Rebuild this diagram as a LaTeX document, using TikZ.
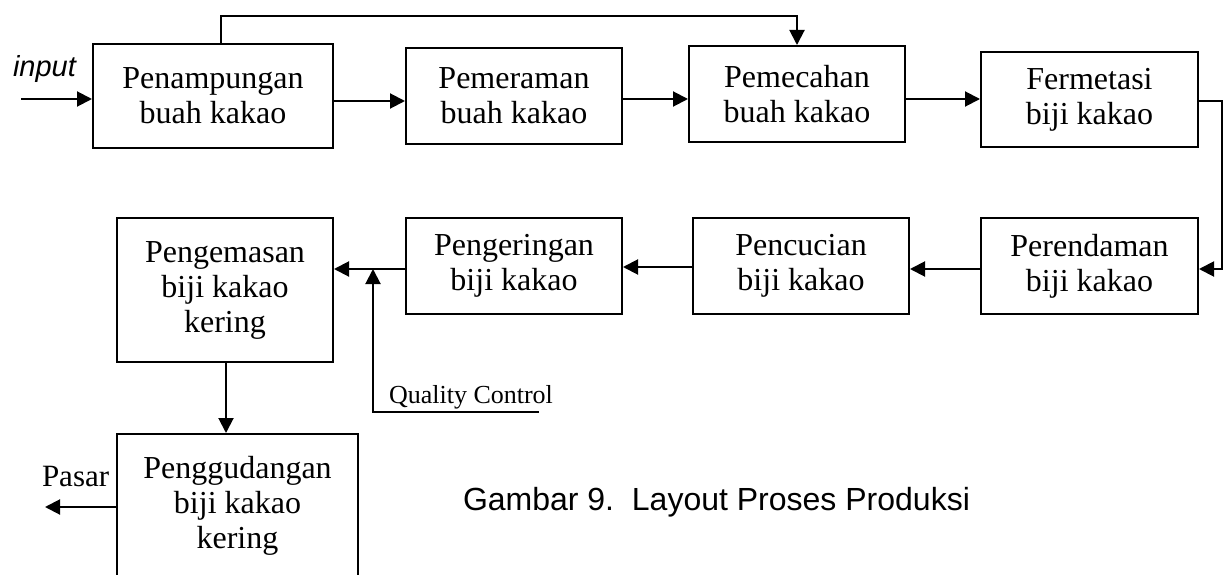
\documentclass[tikz,border=0pt]{standalone}
\usepackage{fontspec}
\setmainfont{Liberation Serif}
\newfontfamily\arialfont{Liberation Sans}
\usetikzlibrary{arrows.meta}

\begin{document}
\begin{tikzpicture}[x=1pt,y=-1pt,
  line width=2pt,
  procbox/.style={draw, inner sep=0pt, align=center,
    font=\fontsize{32}{35}\selectfont},
  arr/.style={-{Triangle[length=15pt,width=15pt]}},
  plain/.style={font=\fontsize{31}{35}\selectfont, inner sep=0pt}
]
\useasboundingbox (0,0) rectangle (1225,575);
\clip (0,0) rectangle (1225,575);

% first row of process steps
\node[procbox, minimum width=240pt, minimum height=104pt] (b1) at (213,96)
  {Penampungan\\buah kakao};
\node[procbox, minimum width=216pt, minimum height=96pt] (b2) at (514,96)
  {Pemeraman\\buah kakao};
\node[procbox, minimum width=216pt, minimum height=96pt] (b3) at (797,94)
  {Pemecahan\\buah kakao};
\node[procbox, minimum width=217pt, minimum height=95pt] (b4) at (1089.5,99.5)
  {Fermetasi\\biji kakao};

% second row, running right to left
\node[procbox, minimum width=217pt, minimum height=96pt] (b5) at (1089.5,266)
  {Perendaman\\biji kakao};
\node[procbox, minimum width=216pt, minimum height=96pt] (b6) at (801,266)
  {Pencucian\\biji kakao};
\node[procbox, minimum width=216pt, minimum height=96pt] (b7) at (514,266)
  {Pengeringan\\biji kakao};
\node[procbox, minimum width=216pt, minimum height=144pt] (b8) at (225,290)
  {Pengemasan\\biji kakao\\kering};

% storage
\node[procbox, minimum width=241pt, minimum height=144pt] (b9) at (237.5,506)
  {Penggudangan\\biji kakao\\kering};

% free ends and bends
\coordinate (in) at (21,99);
\coordinate (loop) at (500,16);
\coordinate (qc) at (373,412);
\coordinate (qcend) at (539,412);
\coordinate (pasar) at (45,507);

% labels
\node[anchor=base west, inner sep=0pt,
  font=\arialfont\itshape\fontsize{29}{34}\selectfont] (lin) at (12,77) {input};
\node[plain, anchor=base west] (lpasar) at (41,486) {Pasar};
\node[anchor=base west, inner sep=0pt, font=\fontsize{26}{30}\selectfont]
  (lqc) at (388,403) {Quality Control};
\node[anchor=base west, inner sep=0pt, font=\arialfont\fontsize{32}{38}\selectfont]
  (cap) at (462,510) {Gambar 9.\ \ Layout Proses Produksi};

% connectors
\draw[arr] (in) -- (in -| b1.west);
\draw[arr] ([xshift=8pt]b1.north) |- (loop) -| (b3.north);
\draw[arr] ([yshift=-5pt]b1.east) -- ([yshift=-5pt]b1.east -| b2.west);
\draw[arr] ([yshift=-3pt]b2.east) -- ([yshift=-3pt]b2.east -| b3.west);
\draw[arr] ([yshift=-5pt]b3.east) -- ([yshift=-5pt]b3.east -| b4.west);
\draw[arr] ([yshift=-1.5pt]b4.east) -- ++(23,0) |- ([yshift=-3pt]b5.east);
\draw[arr] ([yshift=-3pt]b5.west) -- ([yshift=-3pt]b5.west -| b6.east);
\draw[arr] ([yshift=-1pt]b6.west) -- ([yshift=-1pt]b6.west -| b7.east);
\draw[arr] ([yshift=-3pt]b7.west) -- ([yshift=-3pt]b7.west -| b8.east);
\draw[arr] (qcend) -- (qc) -- ([yshift=-3pt]qc |- b7.west);
\draw[arr] ([xshift=1pt]b8.south) -- ([xshift=1pt]b8.south |- b9.north);
\draw[arr] ([yshift=-1pt]b9.west) -- ([yshift=-1pt]b9.west -| pasar);
\end{tikzpicture}
\end{document}
